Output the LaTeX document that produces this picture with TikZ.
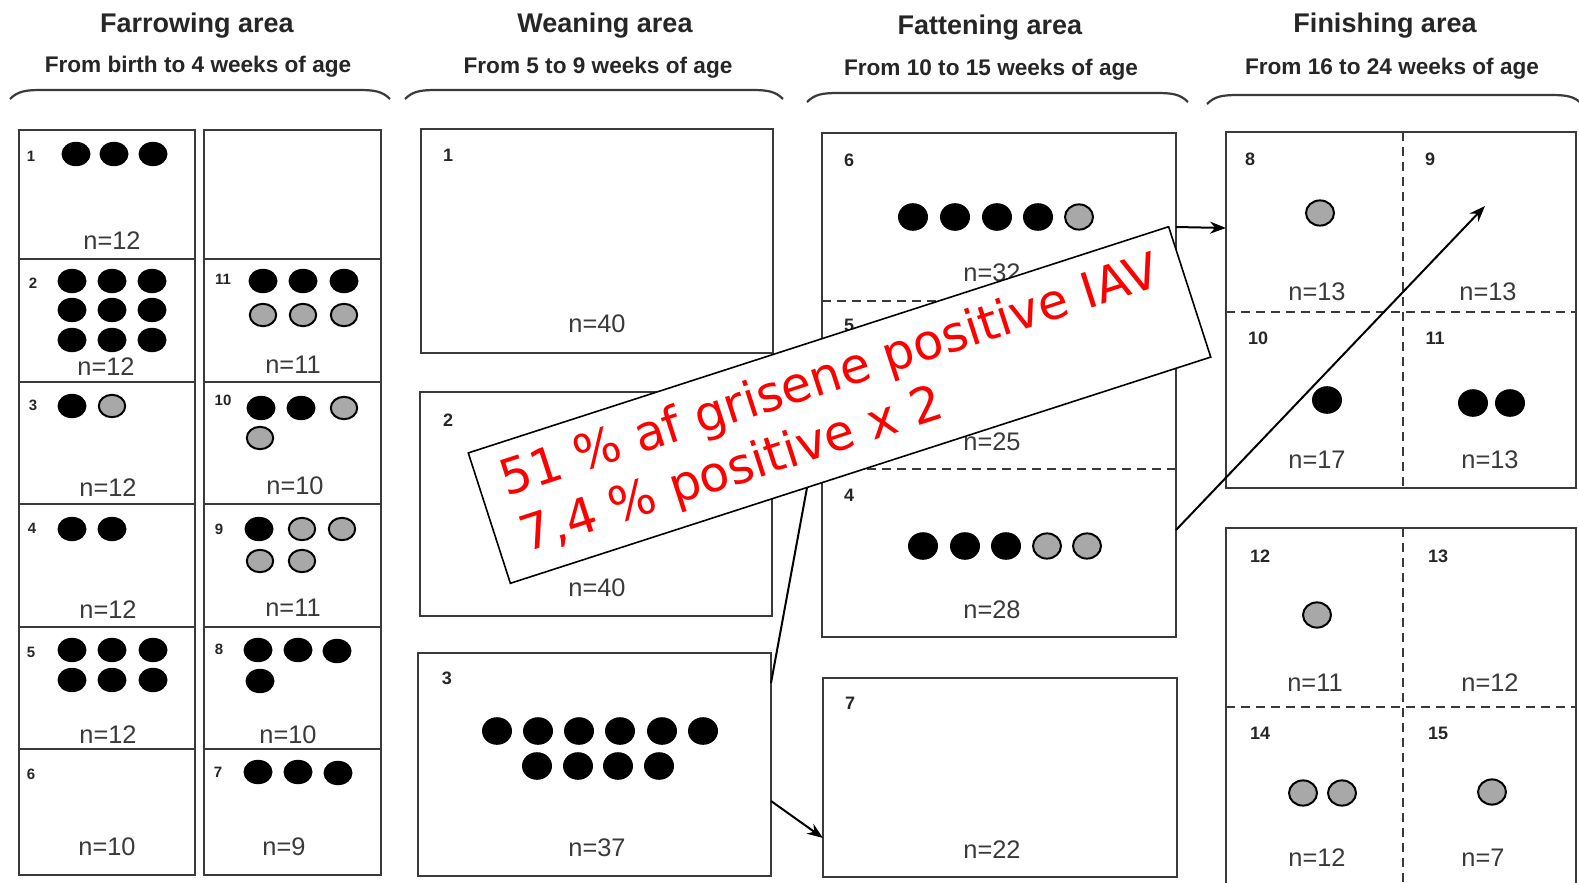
\documentclass[tikz,border=0pt]{standalone}
\usepackage{fontspec}
\setmainfont{Liberation Sans}
\newfontfamily\verdfont{DejaVu Sans}
\usetikzlibrary{fit,arrows.meta,calc}
\definecolor{boxline}{HTML}{3A3A3A}
\definecolor{txtgray}{HTML}{3A3A3A}
\definecolor{greydot}{HTML}{A8A8A8}
\definecolor{lblred}{HTML}{FF0000}
% boxes
\newcommand\penbox[5]{\node[pencell, fit={(#2,#3) (#4,#5)}] (#1) {};}
% dots: farrowing size
\newcommand\pigB[2]{\fill[black] (#1,#2) ellipse [x radius=7.25pt, y radius=6.1pt];}
\newcommand\pigG[2]{\filldraw[fill=greydot, draw=black, line width=1pt] (#1,#2) ellipse [x radius=6.6pt, y radius=5.6pt];}
% dots: larger size
\newcommand\pigBL[2]{\fill[black] (#1,#2) ellipse [x radius=7.5pt, y radius=6.9pt];}
\newcommand\pigGL[2]{\filldraw[fill=greydot, draw=black, line width=1pt] (#1,#2) ellipse [x radius=7pt, y radius=6.3pt];}
% brace
\newcommand\topbrace[3]{\draw[bracepen] (#1,{#3+9}) .. controls ({#1+8},{#3+1}) and ({#1+16},#3) .. ({#1+32},#3) -- ({#2-32},#3) .. controls ({#2-16},#3) and ({#2-8},{#3+1}) .. (#2,{#3+9});}
\begin{document}
\begin{tikzpicture}[x=0.5pt,y=-0.5pt,
  pencell/.style={draw=boxline, line width=1.3pt, inner sep=0pt, outer sep=0pt},
  nlab/.style={text=txtgray, font=\fontsize{12.7}{14}\selectfont, inner sep=0pt},
  pnum/.style={text=black!85, font=\bfseries\fontsize{9}{10}\selectfont, inner sep=0pt},
  fnum/.style={text=black!85, font=\bfseries\fontsize{7.5}{9}\selectfont, inner sep=0pt},
  head/.style={text=black!85, font=\bfseries\fontsize{13.5}{16}\selectfont, anchor=base, inner sep=0pt},
  subhead/.style={text=black!85, font=\bfseries\fontsize{11.3}{13}\selectfont, anchor=base, inner sep=0pt},
  divider/.style={draw=boxline, line width=1.3pt, dash pattern=on 4.5pt off 3pt},
  bracepen/.style={draw=boxline, line width=1.1pt},
  flow/.style={draw=black, line width=1pt, -{Stealth[length=8pt,width=6pt]}},
  redtxt/.style={text=lblred, font=\verdfont\fontsize{24.6}{28}\selectfont, rotate=17.9, anchor=base west, inner sep=0pt},
]
\clip (0,0) rectangle (1579,883);
\fill[white] (0,0) rectangle (1579,883);

% ---------- headings ----------
\node[head] (hfar) at (197,33) {Farrowing area};
\node[subhead] (sfar) at (198,73) {From birth to 4 weeks of age};
\node[head] (hwea) at (605,33) {Weaning area};
\node[subhead] (swea) at (598,74) {From 5 to 9 weeks of age};
\node[head] (hfat) at (990,35) {Fattening area};
\node[subhead] (sfat) at (991,76) {From 10 to 15 weeks of age};
\node[head] (hfin) at (1385,33) {Finishing area};
\node[subhead] (sfin) at (1392,75) {From 16 to 24 weeks of age};

\topbrace{10}{390}{90}
\topbrace{405}{783}{90}
\topbrace{807}{1188}{93}
\topbrace{1207}{1582}{95}

% ---------- farrowing ----------
\penbox{L1}{19}{130}{195}{259}
\penbox{L2}{19}{259}{195}{382}
\penbox{L3}{19}{382}{195}{504}
\penbox{L4}{19}{504}{195}{627}
\penbox{L5}{19}{627}{195}{749}
\penbox{L6}{19}{749}{195}{875}
\penbox{R0}{204}{130}{381}{259}
\penbox{R11}{204}{259}{381}{382}
\penbox{R10}{204}{382}{381}{504}
\penbox{R9}{204}{504}{381}{627}
\penbox{R8}{204}{627}{381}{749}
\penbox{R7}{204}{749}{381}{875}

\node[fnum] at (31,156) {1};
\pigB{76}{154}\pigB{114}{154}\pigB{153}{154}
\node[nlab] at (112,241) {n=12};

\node[fnum] at (33,283) {2};
\pigB{72}{281}\pigB{112}{281}\pigB{152}{281}
\pigB{72}{310}\pigB{112}{310}\pigB{152}{310}
\pigB{72}{340}\pigB{112}{340}\pigB{152}{340}
\node[nlab] at (106,367) {n=12};

\node[fnum] at (33,405) {3};
\pigB{72}{406}\pigG{112}{406}
\node[nlab] at (108,488) {n=12};

\node[fnum] at (32,528) {4};
\pigB{72}{529}\pigB{112}{529}
\node[nlab] at (108,610) {n=12};

\node[fnum] at (31,652) {5};
\pigB{72}{650}\pigB{112}{650}\pigB{153}{650}
\pigB{72}{680}\pigB{112}{680}\pigB{153}{680}
\node[nlab] at (108,735) {n=12};

\node[fnum] at (31,774) {6};
\node[nlab] at (107,847) {n=10};

\node[fnum] at (223,279) {11};
\pigB{263}{281}\pigB{303}{281}\pigB{344}{281}
\pigG{263}{315}\pigG{303}{315}\pigG{344}{315}
\node[nlab] at (293,365) {n=11};

\node[fnum] at (223,400) {10};
\pigB{261}{408}\pigB{301}{408}\pigG{344}{408}
\pigG{260}{438}
\node[nlab] at (295,486) {n=10};

\node[fnum] at (219,529) {9};
\pigB{259}{529}\pigG{302}{529}\pigG{342}{529}
\pigG{260}{561}\pigG{302}{561}
\node[nlab] at (293,608) {n=11};

\node[fnum] at (219,649) {8};
\pigB{258}{650}\pigB{298}{650}\pigB{337}{651}
\pigB{260}{681}
\node[nlab] at (288,735) {n=10};

\node[fnum] at (218,772) {7};
\pigB{258}{772}\pigB{298}{772}\pigB{338}{773}
\node[nlab] at (284,847) {n=9};

% ---------- weaning ----------
\penbox{W1}{421}{129}{773}{353}
\node[pnum] at (448,155) {1};
\node[nlab] at (597,324) {n=40};

\penbox{W2}{420}{392}{772}{616}
\node[pnum] at (448,420) {2};
\node[nlab] at (597,588) {n=40};

\penbox{W3}{418}{653}{771}{876}
\node[pnum] at (447,678) {3};
\pigBL{497}{731}\pigBL{538}{731}\pigBL{579}{731}\pigBL{620}{731}\pigBL{662}{731}\pigBL{703}{731}
\pigBL{537}{766}\pigBL{578}{766}\pigBL{618}{766}\pigBL{659}{766}
\node[nlab] at (597,848) {n=37};

% ---------- fattening ----------
\penbox{FAT}{822}{133}{1176}{637}
\draw[divider] (FAT.west |- 0,301) -- (FAT.east |- 0,301);
\draw[divider] (FAT.west |- 0,469) -- (FAT.east |- 0,469);
\node[pnum] at (849,160) {6};
\pigBL{913}{217}\pigBL{955}{217}\pigBL{997}{217}\pigBL{1038}{217}\pigGL{1079}{217}
\node[nlab] at (992,273) {n=32};
\node[pnum] at (849,325) {5};
\node[nlab] at (992,442) {n=25};
\node[pnum] at (849,495) {4};
\pigBL{923}{546}\pigBL{965}{546}\pigBL{1006}{546}\pigGL{1047}{546}\pigGL{1087}{546}
\node[nlab] at (992,610) {n=28};

\penbox{F7}{823}{678}{1177}{877}
\node[pnum] at (850,703) {7};
\node[nlab] at (992,850) {n=22};

% ---------- finishing ----------
\penbox{FIN1}{1226}{132}{1576}{488}
\draw[divider] (1403,132) -- (1403,488);
\draw[divider] (FIN1.west |- 0,312) -- (FIN1.east |- 0,312);
\node[pnum] at (1250,159) {8};
\node[pnum] at (1430,159) {9};
\node[pnum] at (1258,338) {10};
\node[pnum] at (1435,338) {11};
\pigGL{1320}{213}
\pigBL{1327}{400}
\pigBL{1473}{403}\pigBL{1510}{403}
\node[nlab] at (1317,292) {n=13};
\node[nlab] at (1488,292) {n=13};
\node[nlab] at (1317,460) {n=17};
\node[nlab] at (1490,460) {n=13};

\penbox{FIN2}{1226}{528}{1576}{900}
\draw[divider] (1403,528) -- (1403,900);
\draw[divider] (FIN2.west |- 0,707) -- (FIN2.east |- 0,707);
\node[pnum] at (1260,556) {12};
\node[pnum] at (1438,556) {13};
\node[pnum] at (1260,733) {14};
\node[pnum] at (1438,733) {15};
\pigGL{1317}{615}
\pigGL{1303}{793}\pigGL{1342}{793}
\pigGL{1492}{792}
\node[nlab] at (1315,683) {n=11};
\node[nlab] at (1490,683) {n=12};
\node[nlab] at (1317,858) {n=12};
\node[nlab] at (1483,858) {n=7};

% ---------- connectors ----------
\coordinate (hiddenend) at (818,428);
\draw[flow] ([yshift=-15pt]W3.north east) -- (hiddenend);
\draw[flow] ([yshift=-74pt]W3.north east) -- ([yshift=-80pt]F7.north west);

% ---------- red label ----------
\node[draw=black, line width=0.8pt, fill=white, rotate=17.9, minimum width=368pt, minimum height=68.5pt, inner sep=0pt] (iav) at (839.5,405) {};
\node[redtxt] (iav1) at (506,497) {51 \% af grisene positive IAV};
\node[redtxt] (iav2) at (526,553) {7,4 \% positive x 2};

\draw[flow] ([yshift=-47pt]FAT.north east) -- ([yshift=-48pt]FIN1.north west);
\coordinate (diagtip) at (1485,206);
\draw[flow] ([yshift=-198.5pt]FAT.north east) -- (diagtip);
\end{tikzpicture}
\end{document}
